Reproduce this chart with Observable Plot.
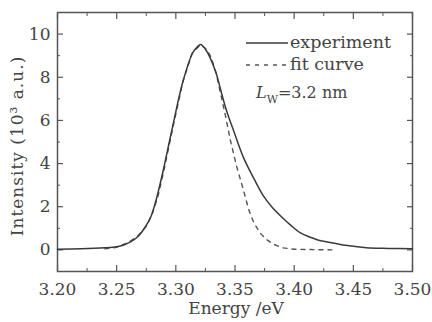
<!DOCTYPE html>
<html>
<head>
<meta charset="utf-8">
<script src="https://cdn.jsdelivr.net/npm/d3@7"></script>
<script src="https://cdn.jsdelivr.net/npm/@observablehq/plot@0.6"></script>
<style>
  html, body { margin: 0; padding: 0; background: #fff; }
  #wrap { position: relative; width: 432px; height: 322px; }
  #legend { position: absolute; left: 0; top: 0; pointer-events: none; }
</style>
</head>
<body>
<div id="wrap"></div>
<script>
// Experiment spectrum (energy in eV, intensity in 10^3 a.u.)
const expEnergy = [3.200,3.220,3.240,3.250,3.256,3.262,3.268,3.274,3.279,3.284,3.290,3.298,3.306,3.314,3.318,3.321,3.325,3.329,3.334,3.338,3.342,3.345,3.349,3.357,3.366,3.374,3.381,3.389,3.397,3.405,3.413,3.420,3.433,3.445,3.461,3.480,3.500];
const expIntensity = [0.03,0.05,0.10,0.15,0.23,0.38,0.62,1.05,1.55,2.45,3.85,5.9,7.8,9.1,9.4,9.52,9.3,8.9,8.2,7.4,6.6,6.1,5.5,4.3,3.3,2.5,2.0,1.55,1.15,0.8,0.6,0.46,0.32,0.2,0.1,0.07,0.05];
// Fit curve
const fitEnergy = [3.240,3.250,3.260,3.268,3.275,3.280,3.285,3.290,3.298,3.306,3.314,3.321,3.326,3.330,3.334,3.338,3.342,3.346,3.351,3.357,3.362,3.366,3.371,3.376,3.383,3.390,3.400,3.420,3.436];
const fitIntensity = [0.05,0.12,0.35,0.65,1.1,1.65,2.5,3.7,5.8,7.8,9.15,9.5,9.3,8.9,8.2,7.2,6.2,5.1,3.95,2.8,1.8,1.25,0.8,0.5,0.25,0.1,0.03,0.01,0.0];
// Ticks
const xMajor = [3.20,3.25,3.30,3.35,3.40,3.45,3.50];
const xMinor = [3.225,3.275,3.325,3.375,3.425,3.475];
const yMajor = [0,2,4,6,8,10];
const yMinor = [-1,1,3,5,7,9,11];
const legendLabels = ["experiment","fit curve"];

const exp = expEnergy.map((e,i)=>({e, v: expIntensity[i]}));
const fit = fitEnergy.map((e,i)=>({e, v: fitIntensity[i]}));

const ink = "#3a3a3a";
const font = "DejaVu Serif";
const empty = () => "";

const chart = Plot.plot({
  width: 432, height: 322,
  marginLeft: 57, marginRight: 20, marginTop: 12, marginBottom: 51,
  style: {fontFamily: font, fontSize: "17px", color: ink, background: "#fff"},
  x: {domain: [3.20, 3.50]},
  y: {domain: [-1, 11]},
  marks: [
    Plot.frame({stroke: "#555", strokeWidth: 1.5}),
    Plot.axisX({anchor: "bottom", ticks: xMajor, tickSize: -6, tickPadding: 17, tickFormat: d3.format(".2f"), stroke: "#555", strokeWidth: 1.2, fill: "#444", fontSize: 17,
      label: null}),
    Plot.axisX({anchor: "bottom", ticks: xMinor, tickSize: -3, tickFormat: empty, stroke: "#555", label: null}),
    Plot.axisX({anchor: "top", ticks: xMajor, tickSize: -6, tickFormat: empty, stroke: "#555", strokeWidth: 1.2, label: null}),
    Plot.axisX({anchor: "top", ticks: xMinor, tickSize: -3, tickFormat: empty, stroke: "#555", label: null}),
    Plot.axisY({anchor: "left", ticks: yMajor, tickSize: -6, tickPadding: 13, tickFormat: d3.format("d"), stroke: "#555", strokeWidth: 1.2, fill: "#444", fontSize: 17,
      label: null}),
    Plot.axisY({anchor: "left", ticks: yMinor, tickSize: -3, tickFormat: empty, stroke: "#555", label: null}),
    Plot.axisY({anchor: "right", ticks: yMajor, tickSize: -6, tickFormat: empty, stroke: "#555", strokeWidth: 1.2, label: null}),
    Plot.axisY({anchor: "right", ticks: yMinor, tickSize: -3, tickFormat: empty, stroke: "#555", label: null}),
    Plot.line(fit, {x: "e", y: "v", stroke: "#555", strokeWidth: 1.4, strokeDasharray: "4,5"}),
    Plot.line(exp, {x: "e", y: "v", stroke: ink, strokeWidth: 1.5, curve: "catmull-rom"})
  ]
});

const wrap = document.getElementById("wrap");
wrap.appendChild(chart);

// Overlay: axis titles and legend
const lg = d3.create("svg").attr("id","legend").attr("width",432).attr("height",322)
  .style("font-family", font).style("font-size","17.5px");
lg.append("text").attr("x",236).attr("y",314).attr("text-anchor","middle")
  .attr("fill","#444").style("font-size","17px").text("Energy /eV");
lg.append("text").attr("transform","translate(23,146) rotate(-90)").attr("text-anchor","middle")
  .attr("fill","#444").style("font-size","17px").style("letter-spacing","1px").text("Intensity (10³ a.u.)");
legendLabels.forEach((t,i)=>{
  const y = 43 + i*22;
  lg.append("line").attr("x1",246).attr("x2",288).attr("y1",y).attr("y2",y)
    .attr("stroke", i===0 ? ink : "#555").attr("stroke-width",1.5)
    .attr("stroke-dasharray", i===0 ? null : "4,5");
  lg.append("text").attr("x",290).attr("y",y+5).attr("fill","#444").text(t);
});
const lt = lg.append("text").attr("x",256).attr("y",98).attr("fill","#444").style("font-size","16px");
lt.append("tspan").attr("font-style","italic").text("L");
lt.append("tspan").attr("dy",5).attr("font-size","11px").text("W");
lt.append("tspan").attr("dy",-5).text("=3.2 nm");
wrap.appendChild(lg.node());
</script>
</body>
</html>
